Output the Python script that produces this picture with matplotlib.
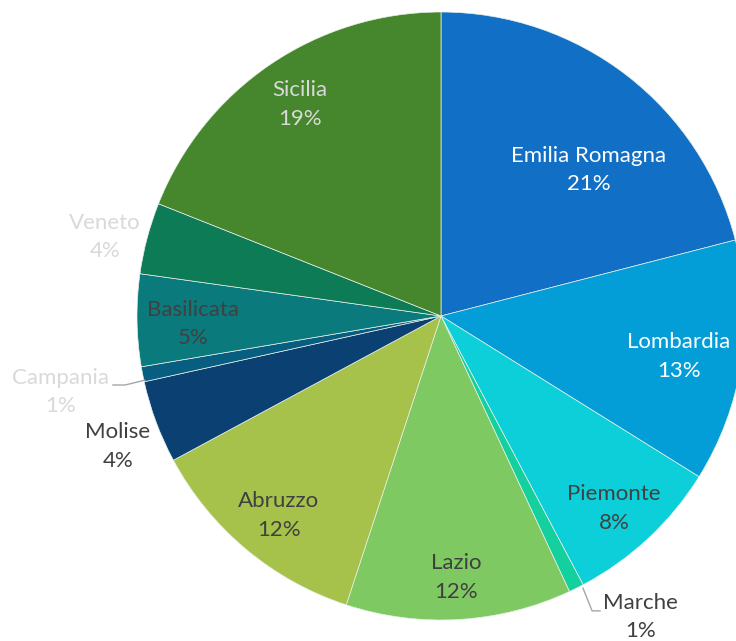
import matplotlib
matplotlib.use('Agg')
from matplotlib import pyplot as plt

regions = ['Emilia Romagna', 'Lombardia', 'Piemonte', 'Marche', 'Lazio', 'Abruzzo',
           'Molise', 'Campania', 'Basilicata', 'Veneto', 'Sicilia']
shares = [21.0, 12.9, 8.4, 0.8, 12.0, 12.1, 4.4, 0.8, 4.9, 3.8, 19.0]

colors = ['#1170C6', '#039ED8', '#0CCFD9', '#14D09F', '#7FC962', '#A7C24B',
          '#0B4072', '#085E80', '#0A7A7D', '#0E7B57', '#46862C']
text_colors = ['white', 'white', '#404040', '#404040', '#404040', '#404040',
               '#404040', '#D9D9D9', '#404040', '#D9D9D9', '#D9D9D9']
# label centres in pie units (radius = 1)
label_pos = [(0.487, 0.480), (0.783, -0.132), (0.569, -0.632), (0.655, -0.990),
             (0.049, -0.859), (-0.533, -0.655), (-1.063, -0.428), (-1.253, -0.250),
             (-0.816, -0.026), (-1.105, 0.260), (-0.464, 0.697)]

plt.rcParams['font.family'] = ['Lato', 'DejaVu Sans']

W, H = 736, 641
fig = plt.figure(figsize=(W / 100, H / 100), dpi=100)
cx, cy, r = 441, 316, 304
ax = fig.add_axes([(cx - r) / W, (H - cy - r) / H, 2 * r / W, 2 * r / H])

ax.pie(shares, colors=colors, startangle=90, counterclock=False, radius=1,
       wedgeprops=dict(edgecolor='#E8F0E8', linewidth=0.5))
ax.set_xlim(-1, 1)
ax.set_ylim(-1, 1)
ax.set_aspect('equal')
ax.axis('off')

total = sum(shares)
for name, v, c, (x, y) in zip(regions, shares, text_colors, label_pos):
    ax.text(x, y, '%s\n%d%%' % (name, round(100 * v / total)), ha='center', va='center',
            color=c, fontsize=16, linespacing=1.55, clip_on=False)

# leader lines for the small slices
ax.plot([0.467, 0.497, 0.523], [-0.895, -0.970, -0.970], color='#A6A6A6', lw=1, clip_on=False)
ax.plot([-0.974, -1.039, -1.079], [-0.211, -0.227, -0.227], color='#A6A6A6', lw=1, clip_on=False)

fig.savefig('out.png', dpi=100)
